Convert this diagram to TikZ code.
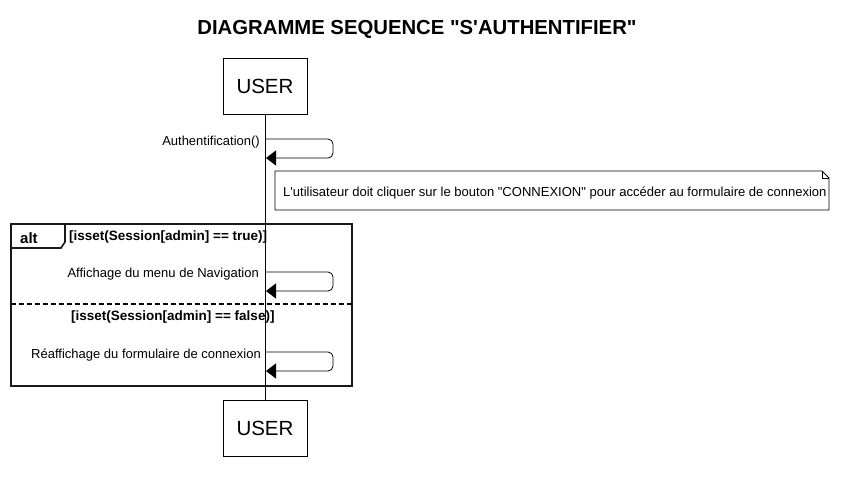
\documentclass[tikz,border=0pt]{standalone}
\usepackage{fontspec}
\setmainfont{Liberation Sans}
\usetikzlibrary{arrows.meta}
\tikzstyle{actor} = [rectangle, draw, line width=0.8pt, minimum width=84pt, minimum height=56pt, inner sep=0pt, font=\fontsize{20.5}{24}\selectfont]
\tikzstyle{msg} = [anchor=base east, inner sep=0pt, font=\fontsize{13}{15}\selectfont]
\tikzstyle{guard} = [anchor=base west, inner sep=0pt, font=\bfseries\fontsize{13.5}{15}\selectfont]
\tikzstyle{frame} = [line width=1.6pt, draw=black!90]
\tikzstyle{arrow} = [line width=0.8pt, rounded corners=5pt, -{Triangle[length=10pt,width=15pt]}]

\begin{document}
\begin{tikzpicture}[x=1pt, y=-1pt]
            \useasboundingbox (0,0) rectangle (841,480);
            \node [inner sep=0pt, anchor=base, font=\bfseries\fontsize{20.3}{24}\selectfont] at (417,34) (title) {DIAGRAMME SEQUENCE \textquotedbl S\textquotesingle AUTHENTIFIER\textquotedbl};
            \node [actor] at (265,86) (usertop) {USER};
            \node [actor] at (265,428) (userbot) {USER};
            \draw [line width=0.8pt] (usertop.south) -- (userbot.north);
            % authentification
            \coordinate (m1a) at (266,139);
            \coordinate (m1b) at (266,158);
            \node [msg] at (260,145) (m1) {Authentification()};
            \draw [arrow] (m1a) -- ++(67,0) |- (m1b);
            % note
            \draw [line width=0.8pt] (275,171) -- (822,171) -- (829,178) -- (829,210) -- (275,210) -- cycle;
            \draw [line width=0.8pt] (822,171) -- (822,178) -- (829,178);
            \node [inner sep=0pt, anchor=base west, font=\fontsize{13.03}{15}\selectfont] at (283,196) (note) {L\textquotesingle utilisateur doit cliquer sur le bouton \textquotedbl CONNEXION\textquotedbl{} pour accéder au formulaire de connexion};
            % alt
            \draw [frame] (11,224) rectangle (352,386);
            \draw [frame] (11,248) -- (61,248) -- (65,242) -- (65,224);
            \node [inner sep=0pt, anchor=base west, font=\bfseries\fontsize{15}{18}\selectfont] at (20,243) (alt) {alt};
            \node [guard] at (69,240) (g1) {[isset(Session[admin] == true)]};
            \coordinate (m2a) at (266,272);
            \coordinate (m2b) at (266,291);
            \node [msg] at (259,277) (m2) {Affichage du menu de Navigation};
            \draw [arrow] (m2a) -- ++(67,0) |- (m2b);
            \draw [line width=1.6pt, dash pattern=on 5pt off 3pt] (11,304) -- (352,304);
            \node [guard] at (71,320) (g2) {[isset(Session[admin] == false)]};
            \coordinate (m3a) at (266,352);
            \coordinate (m3b) at (266,371);
            \node [msg] at (261,358) (m3) {Réaffichage du formulaire de connexion};
            \draw [arrow] (m3a) -- ++(67,0) |- (m3b);
\end{tikzpicture}
\end{document}
